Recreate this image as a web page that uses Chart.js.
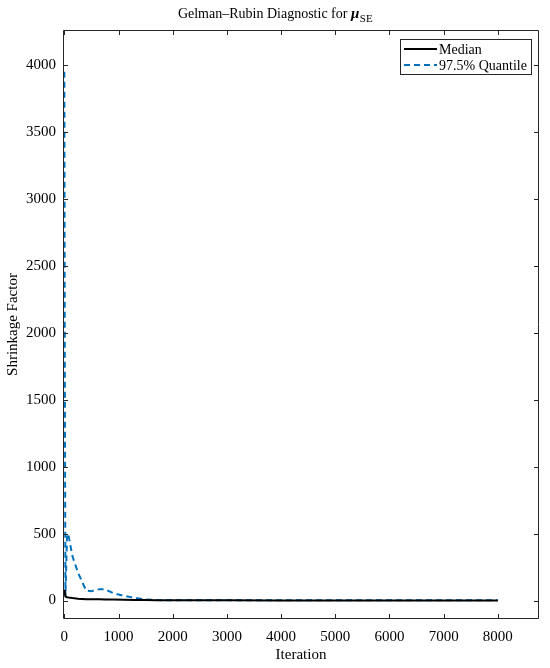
<!DOCTYPE html>
<html>
<head>
<meta charset="utf-8">
<script src="https://cdn.jsdelivr.net/npm/chart.js@4.4.1/dist/chart.umd.min.js"></script>
<style>
  body { margin: 0; background: #fff; }
  #wrap { width: 550px; height: 668px; position: relative; }
</style>
</head>
<body>
<div id="wrap"><canvas id="chart"></canvas></div>
<script>
// Data
const iterations = [0, 8, 20, 50, 80, 150, 250, 400, 500, 650, 750, 900, 1100, 1300, 1500, 1700, 2000, 3000, 4000, 5000, 6000, 7000, 8000];
const quantileVals = [3950, 1800, 30, 500, 480, 330, 210, 75, 70, 85, 85, 55, 35, 20, 8, 3, 2, 1.5, 1.5, 1.4, 1.3, 1.3, 1.3];
const medianVals = [80, 60, 30, 25, 22, 18, 14, 10, 9, 9, 8, 7, 5, 4, 3, 2, 1.5, 1.2, 1.1, 1.1, 1.1, 1.1, 1.1];
const xTicks = [0, 1000, 2000, 3000, 4000, 5000, 6000, 7000, 8000];
const yTicks = [0, 500, 1000, 1500, 2000, 2500, 3000, 3500, 4000];

const FONT = '"Liberation Serif", "Times New Roman", serif';
const BLUE = '#0072BD';

function toPoints(ys) {
  return iterations.map((x, i) => ({x: x, y: ys[i]}));
}

// box, inward ticks, title with subscript and legend, MATLAB style
const matlabDecor = {
  id: 'matlabDecor',
  afterDraw(chart) {
    const ctx = chart.ctx;
    const a = chart.chartArea;
    const xs = chart.scales.x, ys = chart.scales.y;
    ctx.save();
    ctx.strokeStyle = '#262626';
    ctx.lineWidth = 1;
    ctx.beginPath();
    ctx.rect(a.left + 0.5, a.top + 0.5, a.right - a.left - 1, a.bottom - a.top - 1);
    ctx.stroke();
    ctx.beginPath();
    xTicks.forEach(v => {
      const px = Math.round(xs.getPixelForValue(v)) + 0.5;
      ctx.moveTo(px, a.bottom); ctx.lineTo(px, a.bottom - 5);
      ctx.moveTo(px, a.top); ctx.lineTo(px, a.top + 5);
    });
    yTicks.forEach(v => {
      const py = Math.round(ys.getPixelForValue(v)) + 0.5;
      ctx.moveTo(a.left, py); ctx.lineTo(a.left + 5, py);
      ctx.moveTo(a.right, py); ctx.lineTo(a.right - 5, py);
    });
    ctx.stroke();

    // title, centred on the figure
    const main = 'Gelman\u2013Rubin Diagnostic for ';
    ctx.fillStyle = '#000';
    ctx.textBaseline = 'alphabetic';
    ctx.font = '14px ' + FONT;
    const w1 = ctx.measureText(main).width;
    ctx.font = 'italic bold 15px ' + FONT;
    const w2 = ctx.measureText('\u03bc').width;
    ctx.font = '11px ' + FONT;
    const w3 = ctx.measureText('SE').width;
    let tx = chart.width / 2 - (w1 + w2 + w3) / 2;
    const ty = 18;
    ctx.textAlign = 'left';
    ctx.font = '14px ' + FONT;
    ctx.fillText(main, tx, ty);
    tx += w1;
    ctx.font = 'italic bold 15px ' + FONT;
    ctx.fillText('\u03bc', tx, ty);
    tx += w2 + 0.5;
    ctx.font = '11px ' + FONT;
    ctx.fillText('SE', tx, ty + 4);

    // legend
    const lx = 400, ly = 39, lw = 131, lh = 35;
    ctx.fillStyle = '#fff';
    ctx.fillRect(lx, ly, lw, lh);
    ctx.strokeStyle = '#262626';
    ctx.lineWidth = 1;
    ctx.strokeRect(lx + 0.5, ly + 0.5, lw, lh);
    ctx.font = '14px ' + FONT;
    ctx.textBaseline = 'middle';
    chart.data.datasets.forEach((ds, i) => {
      const cy = ly + 10 + i * 16;
      ctx.strokeStyle = ds.borderColor;
      ctx.lineWidth = ds.borderWidth;
      ctx.setLineDash(ds.borderDash || []);
      ctx.beginPath();
      ctx.moveTo(lx + 4, cy); ctx.lineTo(lx + 37, cy);
      ctx.stroke();
      ctx.setLineDash([]);
      ctx.fillStyle = '#000';
      ctx.fillText(ds.label, lx + 39, cy + 1);
    });
    ctx.restore();
  }
};

new Chart(document.getElementById('chart'), {
  type: 'line',
  data: {
    datasets: [
      {
        label: 'Median',
        data: toPoints(medianVals),
        borderColor: '#000',
        borderWidth: 2,
        pointRadius: 0,
        tension: 0
      },
      {
        label: '97.5% Quantile',
        data: toPoints(quantileVals),
        borderColor: BLUE,
        borderWidth: 2,
        borderDash: [6, 4],
        pointRadius: 0,
        tension: 0
      }
    ]
  },
  options: {
    responsive: true,
    maintainAspectRatio: false,
    animation: false,
    layout: {padding: {top: 30, right: 11, left: 0, bottom: 0}},
    plugins: {
      legend: {display: false},
      title: {display: false},
      tooltip: {enabled: false}
    },
    scales: {
      x: {
        type: 'linear',
        min: -25,
        max: 8760,
        afterBuildTicks: s => { s.ticks = xTicks.map(v => ({value: v})); },
        afterFit: s => { s.height = 49; },
        grid: {display: false, drawTicks: false},
        border: {display: false},
        ticks: {
          color: '#000',
          padding: 9,
          maxRotation: 0,
          autoSkip: false,
          callback: v => String(v),
          font: {family: FONT, size: 15}
        },
        title: {
          display: true,
          text: 'Iteration',
          color: '#000',
          padding: {top: 0, bottom: 4},
          font: {family: FONT, size: 15}
        }
      },
      y: {
        type: 'linear',
        min: -138,
        max: 4261,
        afterBuildTicks: s => { s.ticks = yTicks.map(v => ({value: v})); },
        afterFit: s => { s.width = 63; },
        grid: {display: false, drawTicks: false},
        border: {display: false},
        ticks: {
          color: '#000',
          padding: 7,
          autoSkip: false,
          callback: v => String(v),
          font: {family: FONT, size: 15}
        },
        title: {
          display: true,
          text: 'Shrinkage Factor',
          color: '#000',
          padding: {top: 4, bottom: 0},
          font: {family: FONT, size: 15}
        }
      }
    }
  },
  plugins: [matlabDecor]
});
</script>
</body>
</html>
